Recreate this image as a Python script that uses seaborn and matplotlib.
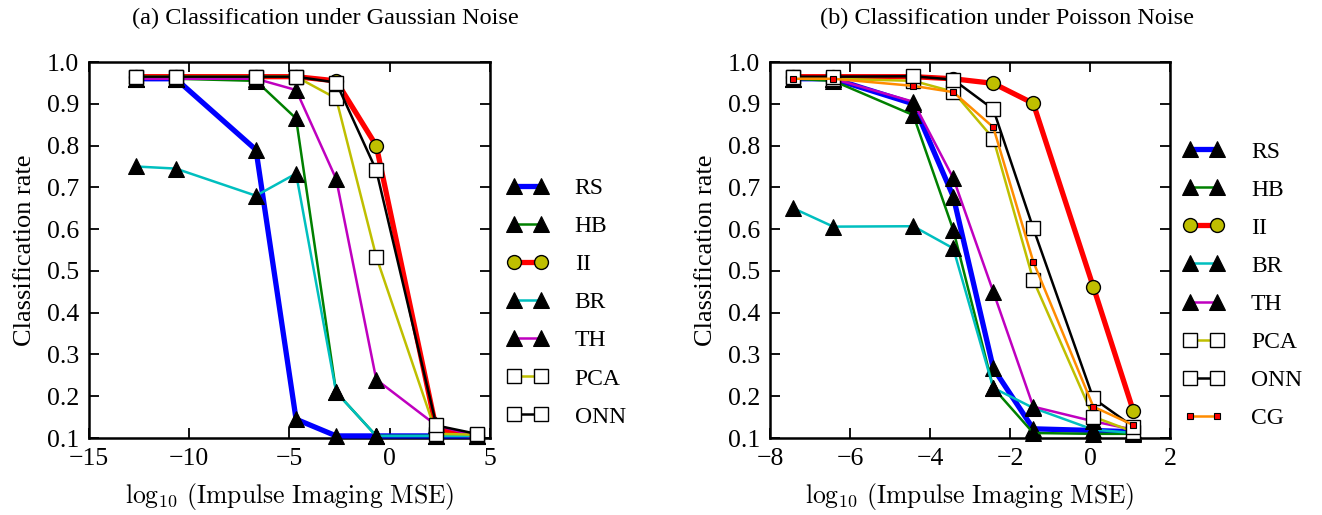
import matplotlib
matplotlib.use("Agg")
import matplotlib.pyplot as plt
import seaborn as sns

# x positions (log10 of impulse imaging MSE)
x_gauss = [-12.67, -10.67, -6.67, -4.67, -2.67, -0.67, 2.33, 4.33]
x_pois = [-7.42, -6.42, -4.42, -3.42, -2.42, -1.42, 0.08, 1.08]

# (a) Gaussian noise
gauss_rs = [0.96, 0.96, 0.79, 0.145, 0.105, 0.105, 0.105, 0.105]
gauss_hb = [0.96, 0.96, 0.955, 0.865, 0.21, 0.105, 0.105, 0.105]
gauss_ii = [0.965, 0.965, 0.965, 0.965, 0.955, 0.80, 0.12, 0.105]
gauss_br = [0.75, 0.745, 0.68, 0.733, 0.21, 0.105, 0.105, 0.105]
gauss_th = [0.96, 0.96, 0.96, 0.933, 0.72, 0.24, 0.13, 0.105]
gauss_pca = [0.965, 0.965, 0.965, 0.965, 0.913, 0.534, 0.11, 0.108]
gauss_onn = [0.965, 0.965, 0.965, 0.965, 0.951, 0.741, 0.13, 0.11]

# (b) Poisson noise
pois_rs = [0.96, 0.96, 0.90, 0.678, 0.267, 0.122, 0.118, 0.115]
pois_hb = [0.96, 0.955, 0.873, 0.598, 0.22, 0.112, 0.11, 0.11]
pois_ii = [0.965, 0.965, 0.965, 0.96, 0.949, 0.901, 0.462, 0.165]
pois_br = [0.65, 0.606, 0.607, 0.554, 0.22, 0.172, 0.12, 0.112]
pois_th = [0.96, 0.96, 0.905, 0.722, 0.45, 0.175, 0.14, 0.12]
pois_pca = [0.965, 0.96, 0.955, 0.929, 0.817, 0.478, 0.151, 0.115]
pois_onn = [0.965, 0.965, 0.966, 0.958, 0.887, 0.602, 0.195, 0.127]
pois_cg = [0.96, 0.96, 0.943, 0.928, 0.844, 0.522, 0.175, 0.131]

titles = ["(a) Classification under Gaussian Noise",
          "(b) Classification under Poisson Noise"]

tri = dict(marker="^", markersize=11, markerfacecolor="k", markeredgecolor="k")
sq = dict(marker="s", markersize=10, markerfacecolor="w", markeredgecolor="k", markeredgewidth=1.0)
styles = {
    "RS": dict(color="b", lw=3.8, **tri),
    "HB": dict(color=(0, 0.5, 0), lw=1.8, **tri),
    "II": dict(color="r", lw=3.8, marker="o", markersize=10,
               markerfacecolor=(0.75, 0.75, 0), markeredgecolor="k", markeredgewidth=1.0),
    "BR": dict(color=(0, 0.75, 0.75), lw=1.8, **tri),
    "TH": dict(color=(0.75, 0, 0.75), lw=1.8, **tri),
    "PCA": dict(color=(0.75, 0.75, 0), lw=1.8, **sq),
    "ONN": dict(color="k", lw=1.8, **sq),
    "CG": dict(color="darkorange", lw=1.8, marker="s", markersize=4.5,
               markerfacecolor="r", markeredgecolor="k", markeredgewidth=0.8),
}

sns.set_style("ticks")
plt.rcParams["font.family"] = ["Liberation Serif", "DejaVu Serif"]
plt.rcParams["mathtext.fontset"] = "cm"
plt.rcParams["text.color"] = "k"
plt.rcParams["axes.labelcolor"] = "k"
tick_fs = 18.5
leg_fs = 17

fig = plt.figure(figsize=(13.22, 5.15), dpi=100)
ax1 = fig.add_axes([0.0673, 0.1495, 0.3033, 0.730])
ax2 = fig.add_axes([0.5825, 0.1495, 0.3026, 0.730])

panels = [
    (ax1, x_gauss, {"RS": gauss_rs, "HB": gauss_hb, "II": gauss_ii, "BR": gauss_br,
                    "TH": gauss_th, "PCA": gauss_pca, "ONN": gauss_onn},
     (-15, 5), 0.019, 0.36, 0.246),
    (ax2, x_pois, {"RS": pois_rs, "HB": pois_hb, "II": pois_ii, "BR": pois_br,
                   "TH": pois_th, "PCA": pois_pca, "ONN": pois_onn, "CG": pois_cg},
     (-8, 2), 0.009, 0.407, 0.762),
]

for i, (ax, xs, series, xlim, xoff, ymid, tx) in enumerate(panels):
    for name, ys in series.items():
        sns.lineplot(x=xs, y=ys, ax=ax, sort=False, estimator=None,
                     label=name, clip_on=False, zorder=3, **styles[name])
    ax.set_xlim(*xlim)
    ax.set_ylim(0.1, 1.0)
    ax.set_yticks([0.1, 0.2, 0.3, 0.4, 0.5, 0.6, 0.7, 0.8, 0.9, 1.0])
    fig.text(tx, 1 - 18 / 515, titles[i], fontsize=17.5, ha="center", va="center")
    ax.set_xlabel(r"$\log_{10}\,\mathrm{(Impulse\ Imaging\ MSE)}$", fontsize=18.5, labelpad=8)
    ax.set_ylabel("Classification rate", fontsize=19, labelpad=8)
    ax.tick_params(direction="in", top=True, right=True, length=7, width=1.3,
                   labelsize=tick_fs, pad=7, color="k", labelcolor="k")
    for sp in ax.spines.values():
        sp.set_linewidth(1.8)
        sp.set_color("k")
        sp.set_visible(True)
    ax.legend(loc="center left", bbox_to_anchor=(1 + xoff, ymid), frameon=False,
              fontsize=leg_fs, numpoints=2, handlelength=1.75, handletextpad=1.12,
              labelspacing=0.7, borderaxespad=0)

fig.savefig("out.png", dpi=100)
